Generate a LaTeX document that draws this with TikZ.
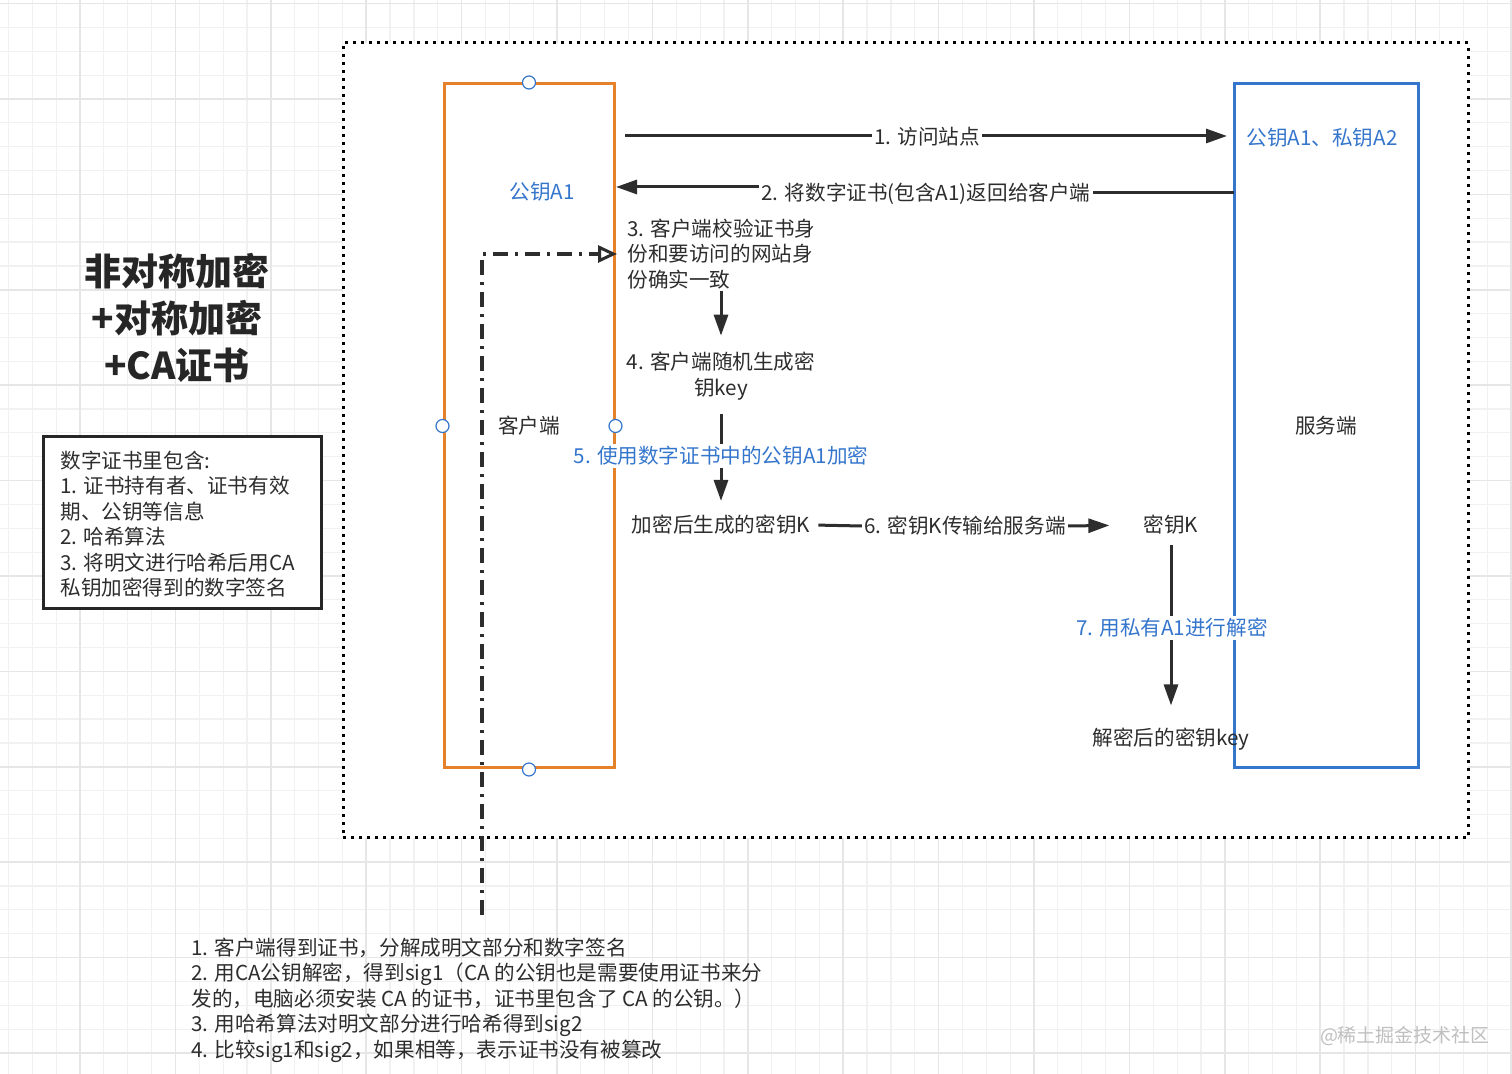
\documentclass[tikz,border=0pt]{standalone}
\usepackage{fontspec}
\setmainfont{Noto Sans CJK SC}
\usetikzlibrary{arrows.meta}
\definecolor{org}{RGB}{229,128,43}
\definecolor{blu}{RGB}{53,118,205}
\definecolor{txt}{RGB}{45,45,45}
\definecolor{gmin}{RGB}{241,241,241}
\definecolor{gmaj}{RGB}{230,230,230}
\begin{document}
\begin{tikzpicture}[x=0.5pt,y=-0.5pt,
  lbl/.style={font=\fontsize{10.3}{12.75}\selectfont, text=txt, inner sep=1pt},
  bluelbl/.style={lbl, text=blu, fill=white},
  arr/.style={draw=txt, line width=1.5pt, -{Triangle[length=10.5pt,width=7pt]}},
  ln/.style={draw=txt, line width=1.5pt},
  port/.style={circle, draw=blu, fill=white, line width=0.6pt, minimum size=6.5pt, inner sep=0pt},
  dashdot/.style={draw=txt, line width=1.7pt, dash pattern=on 7.5pt off 3.5pt on 1.5pt off 3.5pt, -{Triangle[open,length=9.5pt,width=8.5pt,line width=1.5pt]}},
]
\useasboundingbox (0,0) rectangle (1512,1074);
\fill[white] (0,0) rectangle (1512,1074);
% grid
\foreach \i in {0,...,64} {
  \draw[gmin, line width=0.6pt] ({-15.4+\i*23.85},0) -- ({-15.4+\i*23.85},1074);
}
\foreach \i in {0,...,46} {
  \draw[gmin, line width=0.6pt] (0,{3.6+\i*23.85}) -- (1512,{3.6+\i*23.85});
}
\foreach \i in {0,...,16} {
  \draw[gmaj, line width=0.8pt] ({-15.4+\i*95.4},0) -- ({-15.4+\i*95.4},1074);
}
\foreach \i in {0,...,11} {
  \draw[gmaj, line width=0.8pt] (0,{3.6+\i*95.4}) -- (1512,{3.6+\i*95.4});
}
% outer dotted frame
\node[draw=black, fill=white, line width=1.5pt, dash pattern=on 1.5pt off 2.5pt,
      minimum width=562.5pt, minimum height=397.5pt, inner sep=0pt] (frame) at (905.5,440.5) {};

% title
\node[font=\fontsize{18.5}{23.5}\selectfont\bfseries, text=black!85, align=center] (title) at (177,318)
  {非对称加密\\+对称加密\\+CA证书};

% certificate box
\node[draw=black!85, fill=white, line width=1.5pt, minimum width=139pt, minimum height=86pt, inner sep=0pt] (certbox) at (182,523) {};
\node[lbl, anchor=west, align=left] (certtxt) at (58,524)
  {数字证书里包含:\\1. 证书持有者、证书有效\\期、公钥等信息\\2. 哈希算法\\3. 将明文进行哈希后用CA\\私钥加密得到的数字签名};

% client and server
\node[draw=org, line width=1.5pt, minimum width=85pt, minimum height=342pt, inner sep=0pt, lbl] (client) at (529,426) {客户端};
\node[draw=blu, line width=1.5pt, minimum width=92pt, minimum height=342pt, inner sep=0pt, lbl] (server) at (1326,426) {服务端};
\node[port] (pn) at (client.north) {};
\node[port] (pw) at (client.west) {};
\node[port] (pe) at (client.east) {};
\node[port] (ps) at (client.south) {};

\node[lbl, text=blu] (pubA1) at (542,192) {公钥A1};
\node[lbl, text=blu] (keys) at (1322,138) {公钥A1、私钥A2};

% arrow 1
\coordinate (a1s) at (625,136);
\coordinate (a1e) at (1227,136);
\node[lbl, fill=white] (l1) at (927,137) {1. 访问站点};
\draw[ln] (a1s) -- (l1.west |- a1s);
\draw[arr] (l1.east |- a1e) -- (a1e);

% arrow 2
\coordinate (a2s) at (1234,193);
\coordinate (a2e) at (616,187);
\node[lbl, fill=white] (l2) at (926,194) {2. 将数字证书(包含A1)返回给客户端};
\draw[ln] (a2s) -- (l2.east |- a2s);
\draw[arr] (l2.west |- a2e) -- (a2e);

% step 3, 4
\node[lbl, anchor=west, align=left] (t3) at (625,254) {3. 客户端校验证书身\\份和要访问的网站身\\份确实一致};
\node[lbl, align=center] (t4) at (721,376) {4. 客户端随机生成密\\钥key};
\draw[arr, shorten >=7pt] (t3.south -| t4.north) -- (t4.north);

% step 5
\node[lbl, align=center] (t5) at (721,525) {加密后生成的密钥K};
\node[bluelbl] (l5) at (721,456) {5. 使用数字证书中的公钥A1加密};
\draw[ln, shorten <=6pt] (t4.south) -- (l5.north);
\draw[arr, shorten >=6pt] (l5.south) -- (t5.north);

% step 6
\node[lbl] (t6) at (1171,525) {密钥K};
\node[lbl, fill=white] (l6) at (965,526) {6. 密钥K传输给服务端};
\draw[ln, shorten <=3pt] (t5.east) -- (l6.west);
\draw[arr, shorten >=16pt] (l6.east) -- (t6.west);

% step 7
\node[lbl] (t7) at (1171,739) {解密后的密钥key};
\node[bluelbl] (l7) at (1172,628) {7. 用私有A1进行解密};
\draw[ln, shorten <=4pt] (t6.south) -- (l7.north -| t6.south);
\draw[arr, shorten >=10pt] (l7.south -| t6.south) -- (t7.north);

% dash-dot verification connector
\coordinate (dd0) at (482,915);
\draw[dashdot, shorten >=4pt] (dd0) |- (t3.west);

% bottom text
\node[lbl, anchor=west, align=left] (bottom) at (189,1000)
  {1. 客户端得到证书，分解成明文部分和数字签名\\2. 用CA公钥解密，得到sig1（CA 的公钥也是需要使用证书来分\\发的，电脑必须安装 CA 的证书，证书里包含了 CA 的公钥。）\\3. 用哈希算法对明文部分进行哈希得到sig2\\4. 比较sig1和sig2，如果相等，表示证书没有被篡改};

% watermark
\node[font=\fontsize{9.5}{11}\selectfont, text=black!25] (wm) at (1405,1036) {@稀土掘金技术社区};
\end{tikzpicture}
\end{document}
